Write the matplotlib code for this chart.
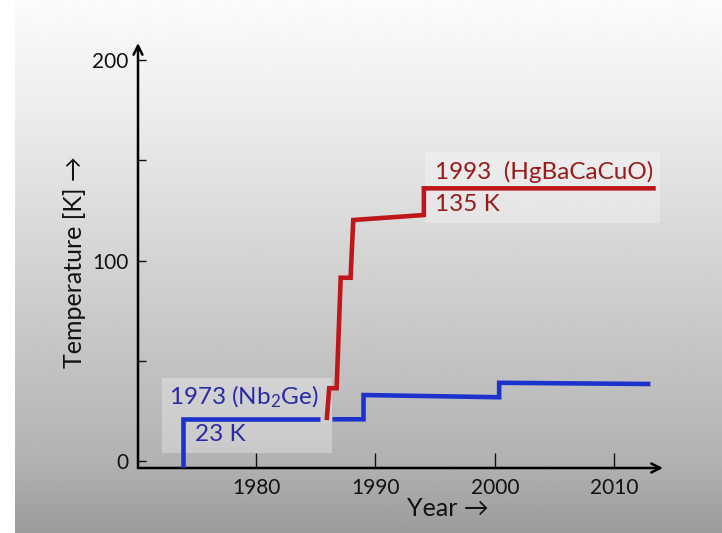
import numpy as np
import matplotlib
matplotlib.use("Agg")
import matplotlib.pyplot as plt
from matplotlib.patches import Rectangle

plt.rcParams['font.family'] = ['Lato', 'DejaVu Sans']
plt.rcParams['mathtext.fontset'] = 'custom'
plt.rcParams['mathtext.rm'] = 'Lato'
plt.rcParams['mathtext.it'] = 'Lato:italic'

# ---- data ----
blue1_years = [1973.87, 1973.87, 1985.4]
blue1_temps = [-3.5, 20.8, 20.8]
blue2_years = [1986.4, 1989.0, 1989.0, 2000.35, 2000.35, 2013.0]
blue2_temps = [20.8, 20.8, 32.9, 31.8, 39.0, 38.4]
red_years = [1985.92, 1986.13, 1986.75, 1987.09, 1987.92, 1988.14, 1994.05, 1994.05, 2013.45]
red_temps = [20.4, 36.3, 36.3, 91.4, 91.4, 120.2, 122.7, 136.0, 136.0]

x_ticks = [1980, 1990, 2000, 2010]
y_ticks = [0, 50, 100, 150, 200]
y_ticklabels = ['0', '', '100', '', '200']

blue_label = "1973 (Nb$_2$Ge)"
blue_value = "23 K"
red_label = "1993  (HgBaCaCuO)"
red_value = "135 K"

BLUE = '#1b33cc'
RED = '#be171b'
BLUE_TXT = '#2a2aa6'
RED_TXT = '#9a1a1a'

fig = plt.figure(figsize=(7.22, 5.33), dpi=100)
fig.patch.set_facecolor('white')

# background gradient
bg = fig.add_axes([15/722, 0, 1 - 15/722, 1])
bg.set_axis_off()
ys = np.linspace(0, 533, 300)
vals = np.interp(ys, [0, 100, 260, 460, 533], [0.985, 0.935, 0.83, 0.70, 0.61])
bg.imshow(vals[:, None], aspect='auto', cmap='gray', vmin=0, vmax=1,
          extent=[0, 1, 1, 0], interpolation='bilinear')
bg.set_xlim(0, 1); bg.set_ylim(1, 0)

# main axes
x0, x1 = 1970.13, 2014.06
y0, y1 = -3.5, 208.5
ax = fig.add_axes([138/722, (533-468)/533, (663-138)/722, (468-43)/533])
ax.patch.set_alpha(0)
ax.set_xlim(x0, x1)
ax.set_ylim(y0, y1)
for s in ax.spines.values():
    s.set_visible(False)

# axis arrows
ax.annotate('', xy=(1, 0), xytext=(0, 0), xycoords='axes fraction',
            arrowprops=dict(arrowstyle='->', lw=1.8, color='black',
                            mutation_scale=16, shrinkA=0, shrinkB=0))
ax.annotate('', xy=(0, 1), xytext=(0, 0), xycoords='axes fraction',
            arrowprops=dict(arrowstyle='->', lw=1.8, color='black',
                            mutation_scale=16, shrinkA=0, shrinkB=0))

ax.set_xticks(x_ticks)
ax.set_xticklabels([str(t) for t in x_ticks])
ax.set_yticks(y_ticks)
ax.set_yticklabels(y_ticklabels)
ax.tick_params(axis='x', direction='in', length=11, width=1.0, pad=7,
               labelsize=15, colors='#111111')
ax.tick_params(axis='y', direction='in', length=6, width=1.0, pad=7,
               labelsize=15, colors='#111111')

# annotation boxes
ax.add_patch(Rectangle((1972.1, 4.1), 1986.36 - 1972.1, 41.4 - 4.1,
                       facecolor='white', alpha=0.3, edgecolor='none', zorder=1))
ax.add_patch(Rectangle((1994.14, 118.9), 2013.8 - 1994.14, 154.3 - 118.9,
                       facecolor='white', alpha=0.3, edgecolor='none', zorder=1))

# lines
kw = dict(lw=3.3, solid_capstyle='butt', solid_joinstyle='miter', zorder=3)
ax.plot(blue1_years, blue1_temps, color=BLUE, **kw)
ax.plot(blue2_years, blue2_temps, color=BLUE, **kw)
ax.plot(red_years, red_temps, color=RED, **kw)

# texts
ax.text(1972.7, 31.8, blue_label, color=BLUE_TXT, fontsize=17.5,
        ha='left', va='center', zorder=4)
ax.text(1974.9, 13.0, blue_value, color=BLUE_TXT, fontsize=17.5,
        ha='left', va='center', zorder=4)
ax.text(1994.95, 144.3, red_label, color=RED_TXT, fontsize=17.5,
        ha='left', va='center', zorder=4)
ax.text(1994.95, 127.7, red_value, color=RED_TXT, fontsize=17.5,
        ha='left', va='center', zorder=4)

# axis labels
fig.text(75/722, 1 - 262/533, "Temperature [K] \u2192", rotation=90,
         fontsize=18, ha='center', va='center', color='#111111')
fig.text(448/722, 1 - 508/533, "Year \u2192", fontsize=18,
         ha='center', va='center', color='#111111')

fig.savefig('out.png', dpi=100)
